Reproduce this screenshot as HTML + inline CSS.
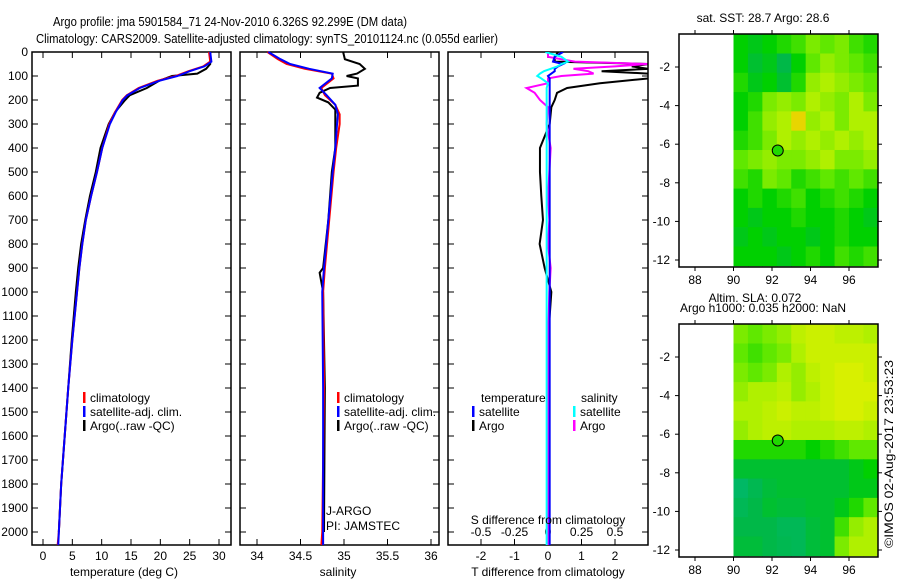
<!DOCTYPE html>
<html><head><meta charset="utf-8"><style>
body{margin:0;background:#fff;}
svg{display:block;font-family:"Liberation Sans",sans-serif;}
text{font-size:12px;fill:#000;}
</style></head><body>
<svg id="c" width="900" height="580" viewBox="0 0 900 580">
<text x="53" y="26" textLength="354" lengthAdjust="spacingAndGlyphs" style="font-size:13px">Argo profile: jma 5901584_71 24-Nov-2010 6.326S 92.299E (DM data)</text>
<text x="36" y="43" textLength="462" lengthAdjust="spacingAndGlyphs" style="font-size:13px">Climatology: CARS2009. Satellite-adjusted climatology: synTS_20101124.nc (0.055d earlier)</text>
<text transform="translate(893,548) rotate(-90)" textLength="188" lengthAdjust="spacingAndGlyphs">©IMOS 02-Aug-2017 23:53:23</text>
<g id="g"></g>
</svg>
<script>
// ---- data ----
const tDepth=[0,40,60,80,100,120,150,180,200,250,300,400,500,600,700,800,900,1000,1200,1400,1600,1800,2000,2054];
const tClim=[28.3,28.5,27.3,24.8,22.6,19.5,16.3,14.3,13.5,12.3,11.3,10.1,9.2,8.2,7.3,6.7,6.2,5.8,5.0,4.3,3.7,3.1,2.7,2.5];
const tSat=[28.5,28.7,27.5,25.0,22.9,19.8,16.5,14.4,13.6,12.4,11.4,10.1,9.2,8.2,7.3,6.7,6.2,5.8,5.0,4.3,3.7,3.1,2.7,2.6];
const tArgoDepth=[0,50,70,90,100,120,150,180,200,250,300,400,500,600,700,800,900,1000,1200,1400,1600,1800,2000];
const tArgo=[28.5,28.5,27.8,26.3,22.0,19.8,17.7,14.8,14.0,12.3,11.2,9.8,9.0,8.0,7.2,6.5,6.0,5.6,4.9,4.3,3.7,3.1,2.7];
const sDepth=[0,30,50,70,90,110,150,180,220,260,300,400,500,700,900,1000,1400,2000,2054];
const sClim=[34.12,34.24,34.34,34.55,34.86,34.88,34.74,34.78,34.9,34.95,34.95,34.91,34.88,34.83,34.78,34.76,34.77,34.75,34.74];
const sSat=[34.13,34.27,34.38,34.6,34.87,34.86,34.72,34.8,34.9,34.93,34.92,34.9,34.87,34.82,34.77,34.75,34.76,34.76,34.76];
const sArgoDepth=[0,30,50,70,90,100,110,140,150,170,190,210,240,280,400,500,700,900,920,1000,1400,2000];
const sArgo=[34.99,35.01,35.18,35.24,35.15,35.03,35.16,35.16,34.84,34.72,34.69,34.82,34.9,34.9,34.9,34.86,34.82,34.76,34.72,34.76,34.78,34.77];
const dDepth=[0,20,40,50,60,70,80,90,100,110,130,150,170,200,230,300,400,500,600,700,800,900,1000,1200,1500,2054];
const dTSat=[0.45,0.2,0.15,0.45,0.3,0.2,0.2,0.1,0,0.05,0.05,0.05,0.05,0.05,0.05,0.05,0.05,0.05,0.05,0.05,0.05,0.05,0.05,0.05,0.05,0.05];
const dTArgo=[0.3,0.2,0.2,3.0,2.5,3.0,1.6,3.0,3.0,3.0,1.55,0.57,0.27,0.2,0.1,0.05,-0.24,-0.24,-0.2,-0.15,-0.25,-0.1,0.1,0.0,0.0,0.0];
const dSSat=[-0.02,0.1,0.15,0.1,0.07,0.02,-0.03,-0.06,-0.08,-0.05,0,-0.01,-0.01,-0.01,-0.01,-0.01,-0.01,-0.01,-0.01,-0.01,-0.01,-0.01,-0.01,-0.01,-0.01,-0.01];
const dSArgo=[0,0,0.2,0.74,0.5,0.19,0.3,0.34,0.1,0,0,-0.16,-0.1,-0.06,0,-0.01,0.02,0.01,0.0,0.01,0.0,0.02,0.01,0.0,0.0,0.0];
const depthTicks=[0,100,200,300,400,500,600,700,800,900,1000,1100,1200,1300,1400,1500,1600,1700,1800,1900,2000];
const tTicks=[0,5,10,15,20,25,30];
const sTicks=[34,34.5,35,35.5,36];
const dTTicks=[-2,-1,0,1,2];
const dSTicks=[-0.5,-0.25,0,0.25,0.5];
const dSTickLabels=["-0.5","-0.25","0","0.25","0.5"];
const lonTicks=[88,90,92,94,96];
const latTicks=[-2,-4,-6,-8,-10,-12];
const sstGrid=[
[0.4,0.35,0.4,0.45,0.5,0.6,0.55,0.6,0.5,0.45],
[0.4,0.3,0.35,0.25,0.4,0.55,0.65,0.6,0.55,0.5],
[0.45,0.35,0.4,0.3,0.45,0.65,0.7,0.65,0.6,0.55],
[0.4,0.45,0.6,0.65,0.6,0.7,0.65,0.6,0.7,0.6],
[0.4,0.5,0.65,0.7,0.95,0.65,0.7,0.6,0.7,0.7],
[0.45,0.5,0.6,0.7,0.65,0.7,0.65,0.7,0.65,0.7],
[0.55,0.6,0.65,0.6,0.6,0.65,0.7,0.6,0.6,0.65],
[0.5,0.45,0.6,0.55,0.45,0.5,0.55,0.5,0.55,0.5],
[0.4,0.45,0.4,0.45,0.5,0.4,0.45,0.5,0.45,0.4],
[0.4,0.35,0.4,0.4,0.45,0.4,0.4,0.45,0.4,0.35],
[0.35,0.4,0.35,0.4,0.4,0.35,0.4,0.45,0.4,0.4],
[0.4,0.4,0.4,0.35,0.4,0.45,0.4,0.5,0.45,0.5]];
const slaGrid=[
[0.6,0.55,0.6,0.65,0.75,0.8,0.8,0.75,0.75,0.7],
[0.55,0.5,0.55,0.6,0.7,0.8,0.8,0.8,0.8,0.8],
[0.6,0.55,0.6,0.7,0.65,0.75,0.8,0.85,0.85,0.8],
[0.65,0.7,0.7,0.75,0.65,0.7,0.8,0.85,0.85,0.85],
[0.7,0.7,0.75,0.8,0.75,0.75,0.8,0.85,0.85,0.8],
[0.65,0.7,0.75,0.75,0.7,0.7,0.7,0.75,0.75,0.7],
[0.45,0.45,0.45,0.45,0.45,0.4,0.45,0.5,0.55,0.55],
[0.3,0.3,0.3,0.3,0.3,0.3,0.3,0.3,0.35,0.4],
[0.15,0.22,0.28,0.3,0.3,0.3,0.3,0.3,0.35,0.35],
[0.2,0.25,0.3,0.28,0.28,0.3,0.3,0.35,0.45,0.55],
[0.25,0.25,0.25,0.2,0.2,0.28,0.3,0.5,0.65,0.7],
[0.28,0.28,0.25,0.22,0.2,0.28,0.3,0.6,0.7,0.7]];
const argoLon=92.299, argoLat=-6.326;

// ---- drawing ----
const NS='http://www.w3.org/2000/svg';
const G=document.getElementById('g');
function mk(tag,attrs,parent){const e=document.createElementNS(NS,tag);for(const k in attrs)e.setAttribute(k,attrs[k]);(parent||G).appendChild(e);return e;}
function txt(x,y,s,anchor,parent){const e=mk('text',{x:x,y:y,'text-anchor':anchor||'start'},parent);e.textContent=s;return e;}
const yD=d=>52+d*0.24;
function panel(x0,x1,name){
  const r=mk('rect',{x:x0,y:52,width:x1-x0,height:493,fill:'none',stroke:'#000','stroke-width':1.5});
  
  
  depthTicks.forEach(d=>{mk('line',{x1:x0,x2:x0+6,y1:yD(d),y2:yD(d),stroke:'#000'});mk('line',{x1:x1-6,x2:x1,y1:yD(d),y2:yD(d),stroke:'#000'});});
}
function line(xs,ds,fx,color,name,w){
  const p=mk('polyline',{points:xs.map((v,i)=>fx(v)+','+yD(ds[i])).join(' '),fill:'none',stroke:color,'stroke-width':w||2});
  
  
}
// depth labels
depthTicks.forEach(d=>{const t=txt(28,yD(d)+4,String(d),'end');});
// panel 1 temperature
const xT=v=>43+v*5.867;
panel(32,231,'temperature-panel');
tTicks.forEach(v=>{mk('line',{x1:xT(v),x2:xT(v),y1:545,y2:539,stroke:'#000'});mk('line',{x1:xT(v),x2:xT(v),y1:52,y2:58,stroke:'#000'});const t=txt(xT(v),560,String(v),'middle');});
line(tArgo,tArgoDepth,xT,'#000','temp-argo-line');
line(tClim,tDepth,xT,'#f00','temp-climatology-line');
line(tSat,tDepth,xT,'#00f','temp-satellite-line');
txt(124,576,'temperature (deg C)','middle');
// panel 2 salinity
const xS=v=>257+(v-34)*87;
panel(240,439,'salinity-panel');
sTicks.forEach(v=>{mk('line',{x1:xS(v),x2:xS(v),y1:545,y2:539,stroke:'#000'});mk('line',{x1:xS(v),x2:xS(v),y1:52,y2:58,stroke:'#000'});const t=txt(xS(v),560,String(v),'middle');});
line(sArgo,sArgoDepth,xS,'#000','sal-argo-line');
line(sClim,sDepth,xS,'#f00','sal-climatology-line');
line(sSat,sDepth,xS,'#00f','sal-satellite-line');
txt(338,576,'salinity','middle');
txt(326,515,'J-ARGO');
txt(326,530,'PI: JAMSTEC');
// legends
function legend(x,y,color,label,name){
  const g=mk('g',{});
  
  
  mk('rect',{x:x,y:y-10,width:2.5,height:11,fill:color},g);
  txt(x+7,y,label,'start',g);
}
[[83,'temp'],[337,'sal']].forEach(([x,p])=>{
  legend(x,402,'#f00','climatology',p+'-legend-climatology');
  legend(x,416,'#00f','satellite-adj. clim.',p+'-legend-satellite');
  legend(x,430,'#000','Argo(..raw -QC)',p+'-legend-argo');
});
// panel 3 differences
const xDT=v=>548+v*33.5;
const xDS=v=>548+v*134;
const clip=mk('clipPath',{id:'cp'});mk('rect',{x:448,y:52,width:200,height:493},clip);
panel(448,648,'difference-panel');
dTTicks.forEach(v=>{mk('line',{x1:xDT(v),x2:xDT(v),y1:545,y2:539,stroke:'#000'});mk('line',{x1:xDT(v),x2:xDT(v),y1:52,y2:58,stroke:'#000'});const t=txt(xDT(v),560,String(v),'middle');});
dSTicks.forEach((v,i)=>{const t=txt(xDS(v),536,dSTickLabels[i],'middle');});
const dg=mk('g',{'clip-path':'url(#cp)'});
function dline(xs,fx,color,name){const p=mk('polyline',{points:xs.map((v,i)=>fx(v)+','+yD(dDepth[i])).join(' '),fill:'none',stroke:color,'stroke-width':2},dg);}
dline(dTArgo,xDT,'#000','tdiff-argo-line');
dline(dSArgo,xDS,'#f0f','sdiff-argo-line');
dline(dTSat,xDT,'#00f','tdiff-satellite-line');
dline(dSSat,xDS,'#0ff','sdiff-satellite-line');
txt(548,524,'S difference from climatology','middle');
txt(548,576,'T difference from climatology','middle');
txt(481,402,'temperature');
txt(581,402,'salinity');
legend(472,416,'#00f','satellite','legend-tdiff-satellite');
legend(472,430,'#000','Argo','legend-tdiff-argo');
legend(573,416,'#0ff','satellite','legend-sdiff-satellite');
legend(573,430,'#f0f','Argo','legend-sdiff-argo');
// maps
const stops=[[0,[0,184,144]],[0.25,[0,184,72]],[0.4,[0,208,0]],[0.55,[96,232,0]],[0.7,[176,240,0]],[0.85,[216,240,0]],[1,[240,200,0]]];
function cmap(v){for(let i=1;i<stops.length;i++){if(v<=stops[i][0]){const a=stops[i-1],b=stops[i],t=(v-a[0])/(b[0]-a[0]);return 'rgb('+a[1].map((c,k)=>Math.round(c+(b[1][k]-c)*t)).join(',')+')';}}return 'rgb(240,200,0)';}
function map(top,grid,name,title1,title2){
  const lx=v=>695+(v-88)*19.25;
  const ly=v=>(top+33)+(-2-v)*19.3;
  const g=mk('g',{});
  
  
  const nr=grid.length,nc=grid[0].length;
  const lon0=90,lon1=97.5,lat0=-0.3,lat1=-12.3;
  grid.forEach((row,i)=>row.forEach((v,j)=>{
    const x=lx(lon0+(lon1-lon0)*j/nc),x2=lx(lon0+(lon1-lon0)*(j+1)/nc);
    const y=ly(lat0+(lat1-lat0)*i/nr),y2=ly(lat0+(lat1-lat0)*(i+1)/nr);
    const c=mk('rect',{x:x,y:y,width:x2-x+0.5,height:y2-y+0.5,fill:cmap(v)},g);
    
    
  }));
  mk('rect',{x:679,y:top,width:199,height:233,fill:'none',stroke:'#000','stroke-width':1.5},g);
  lonTicks.forEach(v=>{mk('line',{x1:lx(v),x2:lx(v),y1:top,y2:top-4,stroke:'#000'},g);mk('line',{x1:lx(v),x2:lx(v),y1:top+233,y2:top+237,stroke:'#000'},g);txt(lx(v),top+250,String(v),'middle',g);});
  latTicks.forEach(v=>{mk('line',{x1:679,x2:675,y1:ly(v),y2:ly(v),stroke:'#000'},g);mk('line',{x1:878,x2:882,y1:ly(v),y2:ly(v),stroke:'#000'},g);txt(670,ly(v)+4,String(v),'end',g);});
  const c=mk('circle',{cx:lx(argoLon),cy:ly(argoLat),r:5.5,fill:cmap(0.45),stroke:'#000','stroke-width':1},g);
  
  
  txt(763,top-12,title1,'middle',g);
  if(title2)txt(777,top+2-12+ -0,title2,'middle',g);
}
map(34,sstGrid,'sst-map','sat. SST: 28.7 Argo: 28.6');
map(324,slaGrid,'sla-map','Argo h1000: 0.035 h2000: NaN');
txt(755,302,'Altim. SLA: 0.072','middle');
</script>
</body></html>
